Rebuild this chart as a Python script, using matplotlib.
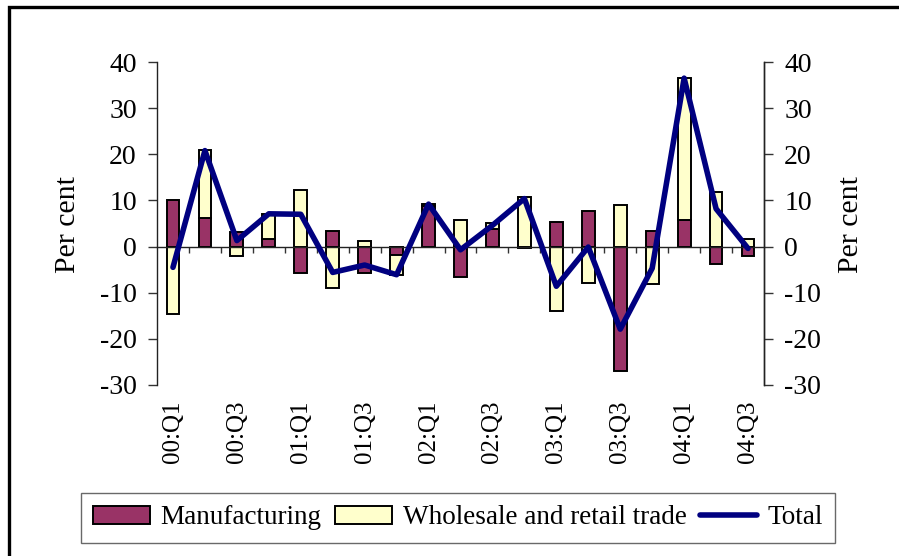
import matplotlib
matplotlib.use("Agg")
import matplotlib.pyplot as plt
from matplotlib.patches import Rectangle
import numpy as np

plt.rcParams['font.family'] = ['Liberation Serif', 'DejaVu Serif']
plt.rcParams['axes.unicode_minus'] = False

quarters = ["00:Q1", "00:Q2", "00:Q3", "00:Q4",
            "01:Q1", "01:Q2", "01:Q3", "01:Q4",
            "02:Q1", "02:Q2", "02:Q3", "02:Q4",
            "03:Q1", "03:Q2", "03:Q3", "03:Q4",
            "04:Q1", "04:Q2", "04:Q3"]
manufacturing = [10.2, 6.1, 3.2, 1.7, -5.7, 3.3, -5.7, -1.9, 8.8, -6.6,
                 3.7, -0.4, 5.4, 7.8, -27.0, 3.3, 5.7, -3.7, -2.1]
wholesale = [-14.7, 14.9, -2.0, 5.4, 12.3, -9.0, 1.2, -4.2, 0.4, 5.8,
             1.4, 10.7, -14.0, -7.9, 9.0, -8.2, 30.8, 11.9, 1.6]
total = [-4.5, 20.8, 1.3, 7.1, 7.0, -5.6, -4.0, -6.1, 9.2, -0.7,
         4.6, 10.4, -8.6, -0.1, -17.9, -4.7, 36.5, 8.2, -0.4]
yticks = [-30, -20, -10, 0, 10, 20, 30, 40]

MANU_C = "#993366"
WHOLE_C = "#FFFFCC"
LINE_C = "#000080"

fig = plt.figure(figsize=(8.99, 5.56), dpi=100)
ax = fig.add_axes([157/899, 1-385/556, (764-157)/899, (385-62)/556])

x = np.arange(len(quarters))
manu = np.array(manufacturing)
whole = np.array(wholesale)
w_bottom = np.where(np.sign(manu) == np.sign(whole), manu, 0.0)

b1 = ax.bar(x, manu, width=0.4, color=MANU_C, edgecolor="black", linewidth=1.4,
            label="Manufacturing", zorder=2)
b2 = ax.bar(x, whole, bottom=w_bottom, width=0.4, color=WHOLE_C, edgecolor="black",
            linewidth=1.4, label="Wholesale and retail trade", zorder=2)
ln, = ax.plot(x, total, color=LINE_C, linewidth=4.0, solid_joinstyle="round",
              solid_capstyle="round", label="Total", zorder=4)

ax.set_xlim(-0.5, len(quarters) - 0.5)
ax.set_ylim(-30, 40)
ax.set_yticks(yticks)
ax.tick_params(axis="y", direction="out", length=6.5, width=1, pad=8,
               labelsize=20, color="#333333")

ax.spines["top"].set_visible(False)
ax.spines["right"].set_visible(True)
ax.spines["bottom"].set_position(("data", 0))
ax.spines["bottom"].set_zorder(3)
for s in ["left", "right", "bottom"]:
    ax.spines[s].set_linewidth(1.0)
    ax.spines[s].set_color("#222222")
ax.set_xticks([])
ax.set_xticks(np.arange(0.5, len(quarters) - 1, 1.0), minor=True)
ax.tick_params(axis="x", which="minor", direction="out", length=4, width=1,
               color="#333333")

sec = ax.secondary_xaxis("bottom")
sec.spines["bottom"].set_visible(False)
sec.set_xticks(x[::2])
sec.set_xticklabels(quarters[::2], rotation=90, fontsize=18)
sec.tick_params(axis="x", length=0, pad=11)

ax2 = ax.twinx()
ax2.set_ylim(-30, 40)
ax2.set_yticks(yticks)
ax2.tick_params(axis="y", direction="out", length=6.5, width=1, pad=8,
                labelsize=20, color="#333333")
for s in ["top", "bottom", "left"]:
    ax2.spines[s].set_visible(False)
ax2.spines["right"].set_linewidth(1.0)
ax2.spines["right"].set_color("#222222")

fig.text(68/899, 1-225/556, "Per cent", rotation=90, ha="center", va="center",
         fontsize=21.5)
fig.text(851/899, 1-225/556, "Per cent", rotation=90, ha="center", va="center",
         fontsize=21.5)

leg = fig.legend([b1, b2, ln], ["Manufacturing", "Wholesale and retail trade", "Total"],
                 loc="center", bbox_to_anchor=(458/899, 1-518/556),
                 ncol=3, fontsize=19.5, frameon=True, fancybox=False,
                 handlelength=2.1, handleheight=0.65, handletextpad=0.4,
                 columnspacing=0.5, borderpad=0.45, borderaxespad=0)
leg.get_frame().set_edgecolor("#444444")
leg.get_frame().set_linewidth(1.0)

fig.patches.append(Rectangle((9/899, -0.1), 1.2, 1 - 7/556 + 0.1,
                             transform=fig.transFigure, fill=False,
                             edgecolor="black", linewidth=2.4))

fig.savefig("out.png", dpi=100)
